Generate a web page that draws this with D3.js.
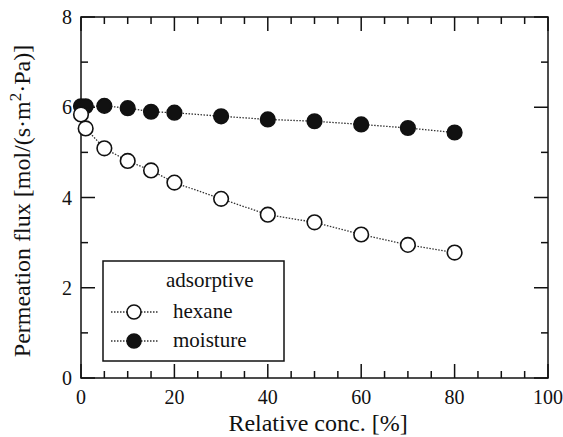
<script src="https://d3js.org/d3.v7.min.js"></script>
<style>
body { margin: 0; background: #fff; }
text { font-family: "Liberation Serif", "Times New Roman", serif; fill: #111; }
</style>
<body>
<script>
// relative concentration [%]
var conc     = [0, 1, 5, 10, 15, 20, 30, 40, 50, 60, 70, 80];
// permeation flux values
var hexane   = [5.84, 5.53, 5.09, 4.81, 4.60, 4.33, 3.97, 3.62, 3.45, 3.18, 2.95, 2.78];
var moisture = [6.02, 6.02, 6.03, 5.98, 5.90, 5.88, 5.80, 5.73, 5.69, 5.62, 5.54, 5.44];
var xTicks = [0, 20, 40, 60, 80, 100];
var yTicks = [0, 2, 4, 6, 8];

var W = 563, H = 437;
var pLeft = 81, pRight = 548, pTop = 17, pBottom = 378;

var svg = d3.select("body").append("svg")
  .attr("width", W).attr("height", H);

var x = d3.scaleLinear().domain([0, 100]).range([pLeft, pRight]);
var y = d3.scaleLinear().domain([0, 8]).range([pBottom, pTop]);

// frame
svg.append("rect")
  .attr("x", pLeft).attr("y", pTop)
  .attr("width", pRight - pLeft).attr("height", pBottom - pTop)
  .attr("fill", "none").attr("stroke", "#111").attr("stroke-width", 1.5);

// inward ticks on all four sides
var xMinor = d3.range(0, 101, 5);
var yMinor = d3.range(0, 8.01, 1);
function tickLen(major) { return major ? 14 : 7; }

svg.selectAll(".xt").data(xMinor).enter().append("g").each(function(d) {
  var len = tickLen(d % 20 === 0), g = d3.select(this);
  g.append("line").attr("x1", x(d)).attr("x2", x(d)).attr("y1", pBottom).attr("y2", pBottom - len);
  g.append("line").attr("x1", x(d)).attr("x2", x(d)).attr("y1", pTop).attr("y2", pTop + len);
}).selectAll("line").attr("stroke", "#111").attr("stroke-width", 1.5);

svg.selectAll(".yt").data(yMinor).enter().append("g").each(function(d) {
  var len = tickLen(d % 2 === 0), g = d3.select(this);
  g.append("line").attr("x1", pLeft).attr("x2", pLeft + len).attr("y1", y(d)).attr("y2", y(d));
  g.append("line").attr("x1", pRight).attr("x2", pRight - len).attr("y1", y(d)).attr("y2", y(d));
}).selectAll("line").attr("stroke", "#111").attr("stroke-width", 1.5);

// tick labels
svg.selectAll(".xl").data(xTicks).enter().append("text")
  .attr("x", function(d) { return x(d); })
  .attr("y", pBottom + 26)
  .attr("text-anchor", "middle")
  .attr("font-size", 20)
  .text(function(d) { return d; });

svg.selectAll(".yl").data(yTicks).enter().append("text")
  .attr("x", pLeft - 9)
  .attr("y", function(d) { return y(d) + 7; })
  .attr("text-anchor", "end")
  .attr("font-size", 20)
  .text(function(d) { return d; });

// axis titles
svg.append("text")
  .attr("x", 318).attr("y", 431)
  .attr("text-anchor", "middle").attr("font-size", 24)
  .text("Relative conc. [%]");

var yt = svg.append("text")
  .attr("transform", "translate(30,201) rotate(-90)")
  .attr("text-anchor", "middle").attr("font-size", 24);
yt.append("tspan").text("Permeation flux [mol/(s\u00b7m");
yt.append("tspan").attr("dy", -9).attr("font-size", 17).text("2");
yt.append("tspan").attr("dy", 9).text("\u00b7Pa)]");

// series
var series = [
  { name: "moisture", vals: moisture, fill: "#111" },
  { name: "hexane", vals: hexane, fill: "#fff" }
];

var line = d3.line()
  .x(function(d) { return x(d[0]); })
  .y(function(d) { return y(d[1]); });

series.forEach(function(s) {
  var pts = conc.map(function(c, i) { return [c, s.vals[i]]; });
  svg.append("path")
    .attr("d", line(pts))
    .attr("fill", "none")
    .attr("stroke", "#333")
    .attr("stroke-width", 1.3)
    .attr("stroke-dasharray", "1.5,1.5");
});
series.forEach(function(s) {
  var pts = conc.map(function(c, i) { return [c, s.vals[i]]; });
  svg.selectAll(null).data(pts).enter().append("circle")
    .attr("cx", function(d) { return x(d[0]); })
    .attr("cy", function(d) { return y(d[1]); })
    .attr("r", 7.3)
    .attr("fill", s.fill)
    .attr("stroke", "#111")
    .attr("stroke-width", 1.6);
});

// legend
var lg = svg.append("g");
lg.append("rect")
  .attr("x", 103).attr("y", 261).attr("width", 181).attr("height", 100)
  .attr("fill", "#fff").attr("stroke", "#111").attr("stroke-width", 1.5);
lg.append("text").attr("x", 166).attr("y", 287).attr("font-size", 21).text("adsorptive");

var legItems = [series[1], series[0]];
legItems.forEach(function(s, i) {
  var cy = 312 + i * 29;
  lg.append("line")
    .attr("x1", 111).attr("x2", 158).attr("y1", cy).attr("y2", cy)
    .attr("stroke", "#333").attr("stroke-width", 1.3).attr("stroke-dasharray", "1.5,1.5");
  lg.append("circle")
    .attr("cx", 134).attr("cy", cy).attr("r", 7)
    .attr("fill", s.fill).attr("stroke", "#111").attr("stroke-width", 1.6);
  lg.append("text").attr("x", 173).attr("y", cy + 6).attr("font-size", 21).text(s.name);
});
</script>
</body>
